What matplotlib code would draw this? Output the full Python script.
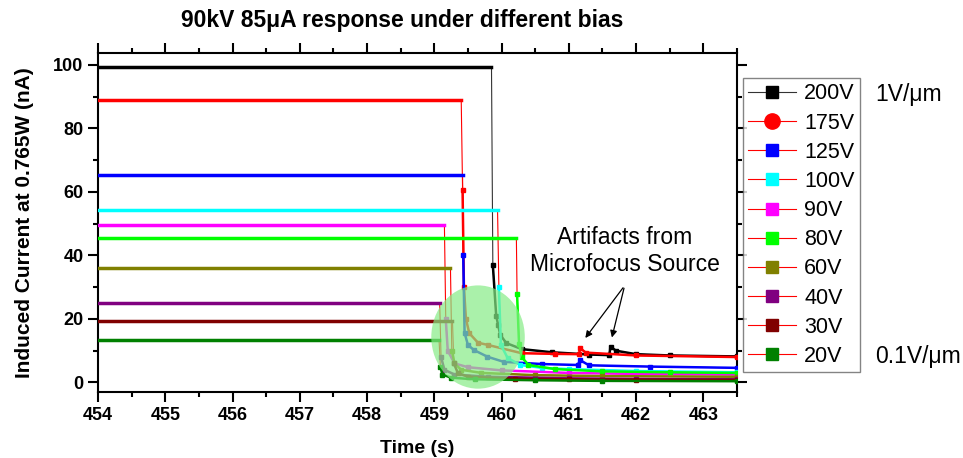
import matplotlib
matplotlib.use('Agg')
import matplotlib.pyplot as plt
from matplotlib.patches import Ellipse
from matplotlib.lines import Line2D

plt.rcParams['font.family'] = ['Liberation Sans', 'DejaVu Sans']

# bias settings, marker colours
labels = ['200V', '175V', '125V', '100V', '90V', '80V', '60V', '40V', '30V', '20V']
colors = ['#000000', '#ff0000', '#0000ff', '#00ffff', '#ff00ff',
          '#00ff00', '#808000', '#800080', '#800000', '#008000']

# current before the beam is switched off (nA) and the switch-off time (s)
plateau = [99.3, 89.0, 65.4, 54.4, 49.6, 45.5, 36.0, 25.0, 19.4, 13.5]
t_off = [459.85, 459.40, 459.42, 459.94, 459.15, 460.22, 459.24, 459.08, 459.27, 459.07]

# decay after switch-off
decay_t = [
    [459.87, 459.92, 459.95, 459.98, 460.07, 460.3, 460.75, 461.3, 461.6, 461.62, 461.7, 462.0, 462.5, 463.5],
    [459.42, 459.44, 459.47, 459.52, 459.65, 459.8, 460.3, 460.8, 461.15, 461.17, 461.25, 462.0, 463.5],
    [459.43, 459.45, 459.50, 459.59, 459.79, 460.03, 460.6, 461.13, 461.17, 461.3, 462.2, 463.5],
    [459.96, 459.99, 460.09, 460.28, 460.6, 461.0, 462.0, 463.5],
    [459.17, 459.2, 459.3, 459.5, 460.0, 461.0, 462.0, 463.5],
    [460.23, 460.26, 460.3, 460.4, 460.8, 461.5, 462.5, 463.5],
    [459.26, 459.3, 459.4, 459.7, 460.5, 461.5, 463.5],
    [459.10, 459.15, 459.3, 459.8, 461.0, 462.0, 463.5],
    [459.29, 459.35, 459.5, 460.2, 461.0, 462.0, 463.5],
    [459.09, 459.12, 459.25, 459.6, 460.5, 461.5, 463.5],
]
decay_i = [
    [37.0, 21.0, 18.0, 15.0, 12.4, 10.5, 9.5, 8.8, 8.6, 11.3, 10.0, 8.9, 8.5, 8.2],
    [60.7, 30.0, 20.0, 15.5, 12.5, 11.8, 9.2, 9.0, 8.9, 10.8, 9.4, 8.5, 8.0],
    [40.0, 15.6, 11.8, 10.2, 8.1, 6.5, 5.8, 5.5, 7.0, 5.4, 5.0, 4.6],
    [30.0, 11.8, 7.7, 5.5, 4.6, 4.2, 3.6, 3.2],
    [20.0, 10.0, 6.0, 4.8, 3.8, 3.0, 2.7, 2.5],
    [28.0, 12.0, 8.0, 5.5, 4.2, 3.5, 3.2, 3.0],
    [10.0, 6.0, 4.0, 3.0, 2.3, 2.0, 1.8],
    [8.0, 4.0, 2.5, 1.8, 1.3, 1.1, 1.0],
    [6.0, 3.0, 1.8, 1.2, 1.0, 0.9, 0.8],
    [5.0, 2.5, 1.5, 1.0, 0.7, 0.5, 0.4],
]

fig = plt.figure(figsize=(9.63, 4.58), dpi=100)
ax = fig.add_axes([98 / 963, 1 - 392 / 458, (737 - 98) / 963, (392 - 53) / 458])

handles = []
for k in range(len(labels)):
    t = [454.0, t_off[k]] + decay_t[k]
    y = [plateau[k], plateau[k]] + decay_i[k]
    lc = '#333333' if k == 0 else 'red'
    mk = 'o' if k == 1 else 's'
    ax.plot(t, y, color=lc, lw=0.8, zorder=2)
    ax.plot(t[:2], y[:2], color=colors[k], lw=2.5, zorder=3)
    ax.plot(decay_t[k], decay_i[k], color=colors[k], lw=1.8, marker='s',
            ms=2.5, zorder=3)
    handles.append(Line2D([0], [0], color=lc, lw=0.8, marker=mk,
                          markerfacecolor=colors[k], markeredgecolor=colors[k],
                          ms=11 if k == 1 else 9))

# highlight of the fast drop
ax.add_patch(Ellipse((459.65, 14.3), 1.39, 32.5, facecolor='#86ec86',
                     edgecolor='none', alpha=0.7, zorder=5))

ax.annotate('', xy=(461.22, 13.3), xytext=(461.83, 30.5),
            arrowprops=dict(arrowstyle='-|>', color='black', lw=0.9))
ax.annotate('', xy=(461.63, 13.3), xytext=(461.83, 30.5),
            arrowprops=dict(arrowstyle='-|>', color='black', lw=0.9))
ax.text(461.83, 41.4, 'Artifacts from\nMicrofocus Source', ha='center',
        va='center', fontsize=16.5, linespacing=1.2)

ax.set_xlim(454, 463.5)
ax.set_ylim(-3, 103.7)
ax.set_xticks(range(454, 464))
ax.set_xticks([454.5 + i for i in range(10)], minor=True)
ax.set_yticks(range(0, 101, 20))
ax.set_yticks(range(10, 101, 20), minor=True)
for s in ax.spines.values():
    s.set_linewidth(1.5)
ax.tick_params(which='both', width=1.5, labelsize=13)
ax.tick_params(which='major', length=7)
ax.tick_params(which='minor', length=3.5)
ax.tick_params(which='both', top=True, right=True, labeltop=False, labelright=False)
ax.tick_params(which='both', axis='x', direction='out')
ax.tick_params(which='both', axis='y', direction='out')
for lab in ax.get_xticklabels() + ax.get_yticklabels():
    lab.set_fontweight('bold')
    lab.set_family(['Liberation Sans Narrow', 'Liberation Sans'])

ax.set_xlabel('Time (s)', fontsize=14, fontweight='bold', labelpad=12)
ax.set_ylabel('Induced Current at 0.765W (nA)', fontsize=15, fontweight='bold', labelpad=14)
fig.text(402 / 963, 1 - 20 / 458, '90kV 85\u03bcA response under different bias',
         ha='center', va='center', fontsize=16.5, fontweight='bold')

leg = fig.legend(handles, labels, loc='upper left',
                 bbox_to_anchor=(743 / 963, 1 - 78 / 458), fontsize=15.5,
                 frameon=True, fancybox=False, edgecolor='#666666',
                 handlelength=2.2, handletextpad=0.4, labelspacing=0.38,
                 borderpad=0.25, borderaxespad=0)
leg.get_frame().set_linewidth(1.0)

fig.text(875 / 963, 1 - 95 / 458, '1V/\u03bcm', fontsize=16.5, va='center')
fig.text(875 / 963, 1 - 356 / 458, '0.1V/\u03bcm', fontsize=16.5, va='center')

fig.savefig('out.png', dpi=100)
